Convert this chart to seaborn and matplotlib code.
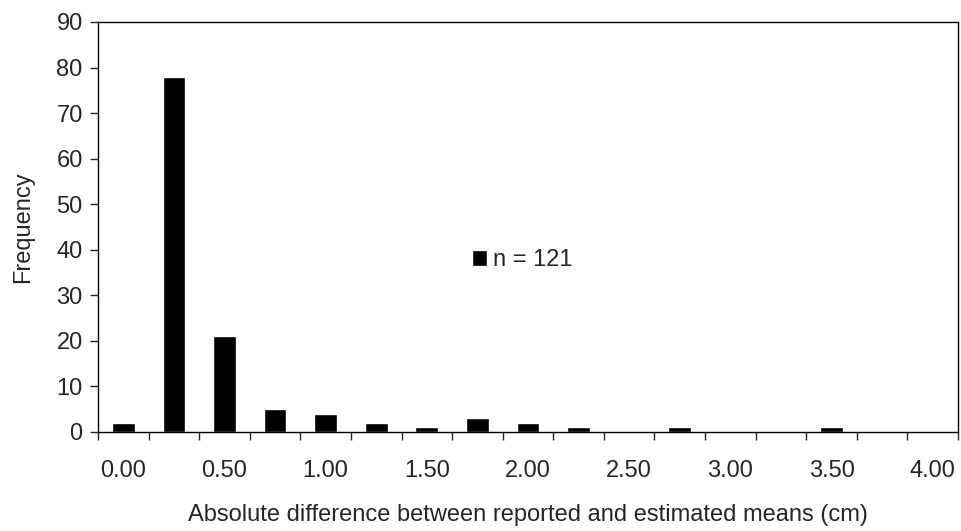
import matplotlib
matplotlib.use("Agg")
import matplotlib.pyplot as plt
import seaborn as sns
import pandas as pd
import numpy as np
from matplotlib.patches import Patch

categories = ["0.00", "0.25", "0.50", "0.75", "1.00", "1.25", "1.50", "1.75", "2.00",
              "2.25", "2.50", "2.75", "3.00", "3.25", "3.50", "3.75", "4.00"]
frequency = [2, 78, 21, 5, 4, 2, 1, 3, 2, 1, 0, 1, 0, 0, 1, 0, 0]
tick_labels = ["0.00", "0.50", "1.00", "1.50", "2.00", "2.50", "3.00", "3.50", "4.00"]

sns.set_style("white")
plt.rcParams['font.family'] = ['Liberation Sans', 'DejaVu Sans']

df = pd.DataFrame({"bin": categories, "freq": frequency})

fig = plt.figure(figsize=(9.62, 5.31), dpi=100)
ax = fig.add_axes([98/962, 1 - 432/531, 860/962, 410/531])
sns.barplot(data=df, x="bin", y="freq", color="black", width=0.45, ax=ax,
            saturation=1, order=categories)

ax.set_xlim(-0.5, len(categories) - 0.5)
ax.set_ylim(0, 90)
ax.set_yticks(range(0, 91, 10))
ax.tick_params(axis='y', direction='out', length=6, width=1, labelsize=17, pad=5, left=True)

ax.set_xticks(range(0, len(categories), 2))
ax.set_xticklabels(tick_labels)
ax.set_xticks(np.arange(-0.5, len(categories), 1), minor=True)
ax.tick_params(axis='x', which='major', length=0, labelsize=17, pad=20)
ax.tick_params(axis='x', which='minor', direction='out', length=6, width=1, bottom=True)

for s in ax.spines.values():
    s.set_color('black')
    s.set_linewidth(1)

ax.set_xlabel("Absolute difference between reported and estimated means (cm)", fontsize=17, labelpad=16)
ax.set_ylabel("Frequency", fontsize=17, labelpad=16)

leg = ax.legend(handles=[Patch(facecolor='black', label='n = 121')], loc='center left',
                bbox_to_anchor=(0.435, 1 - 238/410), frameon=False, fontsize=17,
                handlelength=0.65, handleheight=0.65, handletextpad=0.25,
                borderpad=0, borderaxespad=0)

fig.savefig("out.png", dpi=100)
